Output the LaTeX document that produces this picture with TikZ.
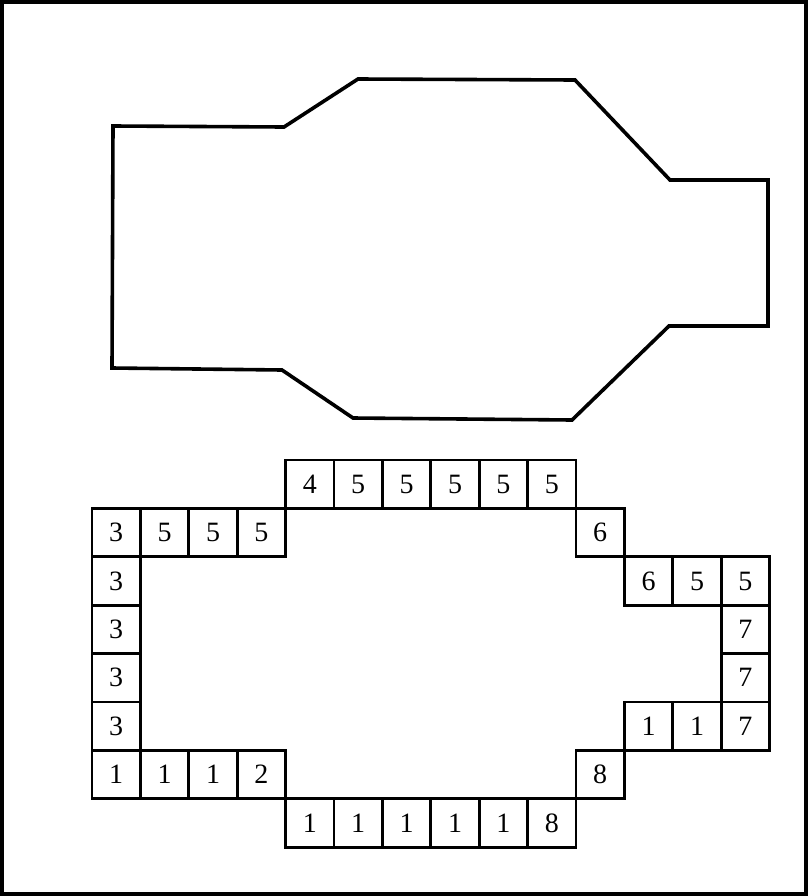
\documentclass[tikz,border=0pt]{standalone}
\usepackage{fontspec}
\setmainfont{Liberation Serif}
\def\s{48.4}
\def\gx{92}
\def\gy{460}

\begin{document}
\begin{tikzpicture}[x=0.75pt, y=-0.75pt,
    cell/.style={draw, line width=2pt, minimum size=36.3pt, inner sep=0pt,
        font=\fontsize{21}{24}\selectfont}]
    % Frame round the whole figure.
    \useasboundingbox (0,0) rectangle (808,896);
    \draw[line width=2.6pt] (2,2) rectangle (806,894);

    % Outline of the region (polygon corners, clockwise from top left).
    \coordinate (p1) at (113,126);
    \coordinate (p2) at (284,127);
    \coordinate (p3) at (358,79);
    \coordinate (p4) at (575,80);
    \coordinate (p5) at (670,180);
    \coordinate (p6) at (768,180);
    \coordinate (p7) at (768,326);
    \coordinate (p8) at (669,326);
    \coordinate (p9) at (572,420);
    \coordinate (p10) at (353,418);
    \coordinate (p11) at (282,370);
    \coordinate (p12) at (112,368);
    \draw[line width=2.7pt, line join=miter]
    (p1) -- (p2) -- (p3) -- (p4) -- (p5) -- (p6) -- (p7) -- (p8) -- (p9) -- (p10) -- (p11) -- (p12) -- cycle;

    % Boundary cells with their chain codes: column/row/code.
    \foreach \c/\r/\v in {4/0/4, 5/0/5, 6/0/5, 7/0/5, 8/0/5, 9/0/5,
            0/1/3, 1/1/5, 2/1/5, 3/1/5, 10/1/6,
            0/2/3, 11/2/6, 12/2/5, 13/2/5,
            0/3/3, 13/3/7,
            0/4/3, 13/4/7,
            0/5/3, 11/5/1, 12/5/1, 13/5/7,
            0/6/1, 1/6/1, 2/6/1, 3/6/2, 10/6/8,
            4/7/1, 5/7/1, 6/7/1, 7/7/1, 8/7/1, 9/7/8} {
            \node[cell] (k\c-\r) at ({\gx+(\c+0.5)*\s}, {\gy+(\r+0.5)*\s}) {\v};
        }
\end{tikzpicture}
\end{document}
